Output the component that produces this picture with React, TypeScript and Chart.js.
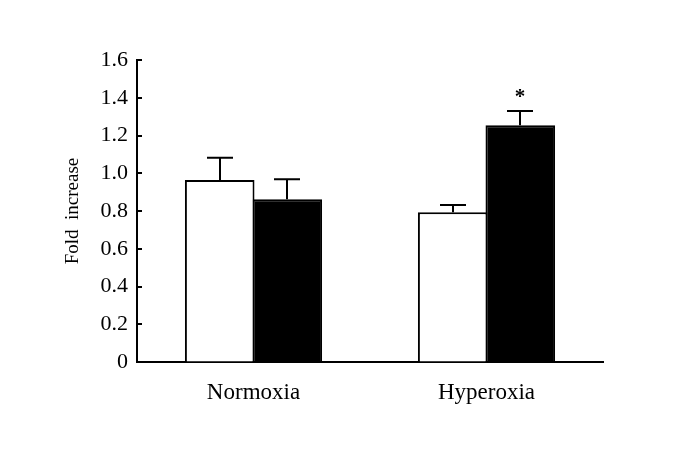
import React, { useEffect, useRef } from "react";
import { Chart, registerables } from "chart.js";

Chart.register(...registerables);

const categories = ["Normoxia", "Hyperoxia"];
const controlValues = [0.964, 0.793];
const controlErrors = [0.118, 0.039];
const treatedValues = [0.862, 1.254];
const treatedErrors = [0.106, 0.076];
const significance = ["", "*"];
const yTicks = [0, 0.2, 0.4, 0.6, 0.8, 1.0, 1.2, 1.4, 1.6];
const yTitle = "Fold  increase";

const FONT = "'Liberation Serif', 'Times New Roman', serif";

const errorBarPlugin = {
  id: "errorBars",
  afterDatasetsDraw(chart: any) {
    const ctx = chart.ctx;
    const yScale = chart.scales.y;
    const errs = [controlErrors, treatedErrors];
    const vals = [controlValues, treatedValues];
    ctx.save();
    ctx.strokeStyle = "#000";
    ctx.lineWidth = 2;
    chart.data.datasets.forEach((_ds: any, i: number) => {
      const meta = chart.getDatasetMeta(i);
      meta.data.forEach((el: any, j: number) => {
        const top = yScale.getPixelForValue(vals[i][j] + errs[i][j]);
        const base = el.y;
        const x = Math.round(el.x);
        ctx.beginPath();
        ctx.moveTo(x, base);
        ctx.lineTo(x, top);
        ctx.moveTo(x - 13, top);
        ctx.lineTo(x + 13, top);
        ctx.stroke();
        if (i === 1 && significance[j]) {
          ctx.fillStyle = "#000";
          ctx.font = `bold 21px ${FONT}`;
          ctx.textAlign = "center";
          ctx.textBaseline = "middle";
          ctx.fillText(significance[j], x, top - 13);
        }
      });
    });
    // inward tick marks on y axis
    const { left, top, bottom } = chart.chartArea;
    yScale.ticks.forEach((t: any) => {
      const py = Math.round(yScale.getPixelForValue(t.value));
      ctx.beginPath();
      ctx.moveTo(left, py);
      ctx.lineTo(left + 5, py);
      ctx.stroke();
    });
    // y axis title
    ctx.translate(73, (top + bottom) / 2);
    ctx.rotate(-Math.PI / 2);
    ctx.fillStyle = "#000";
    ctx.font = `19px ${FONT}`;
    ctx.textAlign = "center";
    ctx.textBaseline = "middle";
    ctx.fillText(yTitle, 0, 0);
    ctx.restore();
  },
};

export default function App() {
  const ref = useRef<HTMLCanvasElement>(null);
  useEffect(() => {
    if (!ref.current) return;
    const chart = new Chart(ref.current, {
      type: "bar",
      data: {
        labels: categories,
        datasets: [
          {
            data: controlValues,
            backgroundColor: "#ffffff",
            borderColor: "#000000",
            borderWidth: 2,
            categoryPercentage: 0.58,
            barPercentage: 1.03,
          },
          {
            data: treatedValues,
            backgroundColor: "#000000",
            borderColor: "#000000",
            borderWidth: 2,
            categoryPercentage: 0.58,
            barPercentage: 1.03,
          },
        ],
      },
      options: {
        responsive: false,
        animation: false,
        layout: { padding: { left: 0, right: 82, top: 60, bottom: 0 } },
        plugins: { legend: { display: false }, tooltip: { enabled: false } },
        scales: {
          x: {
            grid: { display: true, drawOnChartArea: false, drawTicks: false },
            border: { display: true, color: "#000", width: 2 },
            ticks: { color: "#000", font: { family: FONT, size: 23 }, padding: 17 },
            afterFit: (s: any) => {
              s.height = 105;
            },
          },
          y: {
            min: 0,
            max: 1.6,
            afterBuildTicks: (s: any) => {
              s.ticks = yTicks.map((v) => ({ value: v }));
            },
            grid: { display: true, drawOnChartArea: false, drawTicks: false },
            border: { display: true, color: "#000", width: 2 },
            ticks: {
              color: "#000",
              font: { family: FONT, size: 22 },
              padding: 9,
              callback: (v: any) => (Number(v) === 0 ? "0" : Number(v).toFixed(1)),
            },
            afterFit: (s: any) => {
              s.width = 137;
            },
          },
        },
      },
      plugins: [errorBarPlugin],
    });
    return () => chart.destroy();
  }, []);
  return (
    <canvas
      ref={ref}
      width={685}
      height={467}
      style={{ position: "fixed", left: 0, top: 0, display: "block", background: "#fff" }}
    />
  );
}
